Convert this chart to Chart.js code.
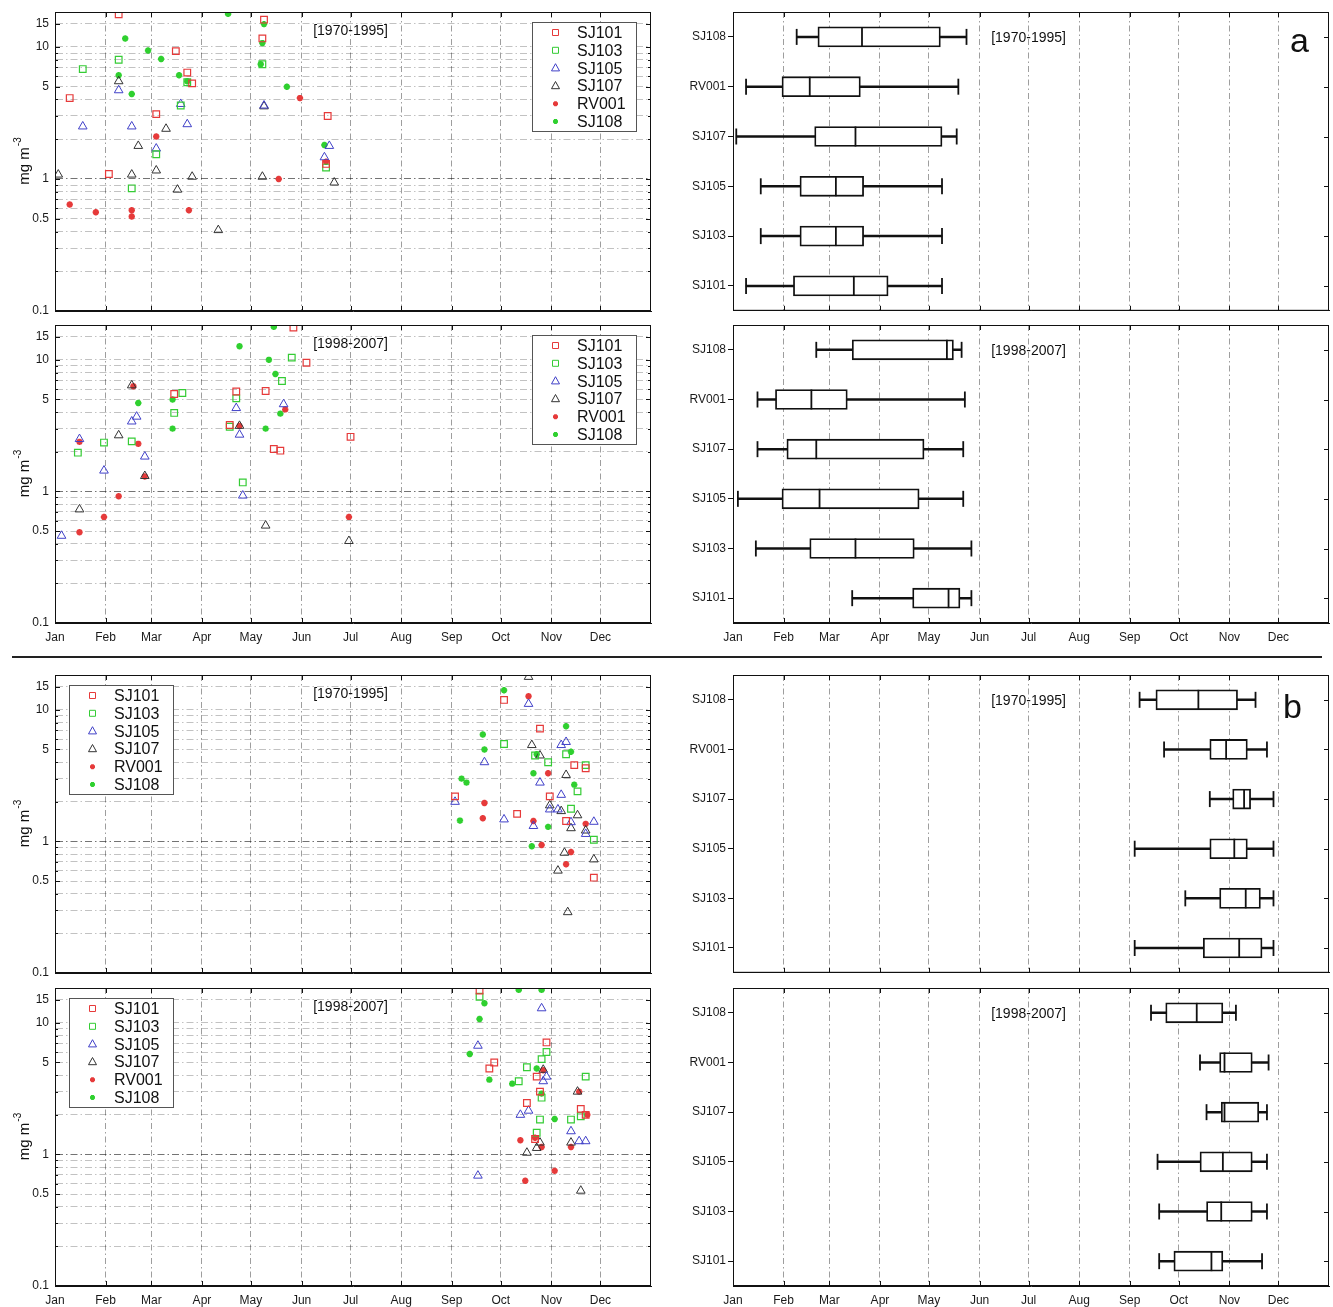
<!DOCTYPE html>
<html><head><meta charset="utf-8">
<script src="https://cdn.jsdelivr.net/npm/chart.js"></script>
<style>
body{margin:0;background:#fff;width:1333px;height:1307px;position:relative;overflow:hidden;font-family:"Liberation Sans",Arial,sans-serif}
canvas{position:absolute}
#sep{position:absolute;left:12px;top:656px;width:1310px;height:2px;background:#222}
.tag{position:absolute;font-size:34px;color:#111;line-height:1}
</style></head><body>
<canvas id="L1" width="660" height="320" style="left:0;top:0"></canvas>
<canvas id="L2" width="660" height="330" style="left:0;top:315px"></canvas>
<canvas id="L3" width="660" height="319" style="left:0;top:663px"></canvas>
<canvas id="L4" width="660" height="329" style="left:0;top:978px"></canvas>
<canvas id="R1" width="653" height="320" style="left:680px;top:0"></canvas>
<canvas id="R2" width="653" height="330" style="left:680px;top:315px"></canvas>
<canvas id="R3" width="653" height="319" style="left:680px;top:663px"></canvas>
<canvas id="R4" width="653" height="329" style="left:680px;top:978px"></canvas>
<div id="sep"></div>
<div class="tag" style="left:1290px;top:23px">a</div>
<div class="tag" style="left:1283px;top:689px">b</div>
<script>
// ---------- data ----------
const monthLabels = ['Jan','Feb','Mar','Apr','May','Jun','Jul','Aug','Sep','Oct','Nov','Dec'];
const monthStarts = [0,31,59,90,120,151,181,212,243,273,304,334];
const yTickValues = [0.1,0.2,0.3,0.4,0.5,0.6,0.7,0.8,0.9,1,2,3,4,5,6,7,8,9,10,15];
const yLabelValues = [0.1,0.5,1,5,10,15];
const scatterStations = ['SJ101','SJ103','SJ105','SJ107','RV001','SJ108'];
const boxStations = ['SJ108','RV001','SJ107','SJ105','SJ103','SJ101'];
const periods = ['[1970-1995]','[1998-2007]'];

// panel a, 1970-1995 : [day of year, mg m-3]
const a70_SJ101 = [[39,17.7],[9,4.1],[33,1.09],[62,3.1],[74,9.3],[81,6.4],[84,5.3],[128,16.1],[127,11.6],[167,3.0],[166,1.3]];
const a70_SJ103 = [[17,6.8],[39,8.0],[47,0.85],[62,1.54],[77,3.6],[81,5.4],[127,7.4],[166,1.22]];
const a70_SJ105 = [[17,2.5],[39,4.7],[47,2.5],[62,1.7],[77,3.7],[81,2.6],[128,3.6],[165,1.46],[168,1.78]];
const a70_SJ107 = [[2,1.08],[39,5.5],[47,1.08],[51,1.78],[62,1.16],[68,2.4],[75,0.83],[84,1.04],[100,0.41],[127,1.04],[128,3.55],[171,0.94]];
const a70_RV001 = [[9,0.64],[25,0.56],[47,0.58],[47,0.52],[62,2.1],[82,0.58],[137,1.0],[150,4.1],[166,1.35]];
const a70_SJ108 = [[39,6.1],[43,11.6],[47,4.4],[57,9.4],[65,8.1],[76,6.1],[81,5.5],[106,17.8],[128,14.9],[127,10.7],[126,7.4],[142,5.0],[165,1.81]];
// panel a, 1998-2007
const a98_SJ101 = [[146,17.6],[154,9.5],[129,5.8],[134,2.1],[138,2.04],[111,5.75],[107,3.2],[73,5.5],[181,2.6]];
const a98_SJ103 = [[14,1.97],[30,2.35],[47,2.4],[73,3.95],[78,5.6],[107,3.1],[111,5.1],[115,1.17],[139,6.9],[145,10.4]];
const a98_SJ105 = [[4,0.46],[15,2.5],[30,1.44],[47,3.4],[50,3.7],[55,1.84],[111,4.3],[113,2.7],[115,0.93],[140,4.6]];
const a98_SJ107 = [[15,0.73],[39,2.67],[129,0.55],[180,0.42],[113,3.15],[47,6.4],[55,1.31]];
const a98_RV001 = [[15,0.49],[30,0.64],[39,0.92],[15,2.38],[48,6.3],[51,2.3],[55,1.3],[113,3.14],[141,4.2],[180,0.64]];
const a98_SJ108 = [[51,4.7],[72,5.0],[72,3.0],[113,12.7],[129,3.0],[131,10],[134,17.8],[135,7.8],[138,3.9]];
// panel b, 1970-1995
const b70_SJ101 = [[275,11.9],[297,7.2],[245,2.2],[283,1.62],[303,2.2],[318,3.8],[325,3.6],[313,1.43],[330,0.53]];
const b70_SJ103 = [[275,5.5],[302,4.0],[313,4.6],[320,2.4],[316,1.77],[325,3.8],[330,1.03],[294,4.5]];
const b70_SJ105 = [[245,2.0],[263,4.0],[275,1.47],[290,11.1],[293,1.31],[297,2.8],[303,1.75],[310,2.26],[310,5.4],[313,5.7],[316,1.4],[325,1.14],[330,1.41],[308,1.75]];
const b70_SJ107 = [[290,17.8],[292,5.4],[297,4.5],[303,1.88],[310,1.7],[313,3.2],[316,1.26],[320,1.58],[325,1.21],[312,0.82],[308,0.6],[330,0.73],[314,0.29]];
const b70_RV001 = [[263,1.96],[262,1.5],[290,12.7],[302,3.3],[293,1.43],[298,0.94],[316,0.83],[313,0.67],[325,1.36]];
const b70_SJ108 = [[275,14.1],[262,6.5],[263,5.0],[249,3.0],[252,2.8],[248,1.44],[313,7.5],[316,4.8],[318,2.7],[293,3.3],[302,1.29],[292,0.92],[295,4.6]];
// panel b, 1998-2007
const b98_SJ101 = [[260,17.6],[301,7.1],[269,5.0],[266,4.5],[295,3.9],[289,2.46],[297,3.0],[322,2.22],[325,2.0],[294,1.31]];
const b98_SJ103 = [[260,15.8],[289,4.6],[298,5.3],[301,6.0],[284,3.6],[298,2.7],[297,1.84],[316,1.84],[322,1.95],[325,3.9],[295,1.46]];
const b98_SJ105 = [[298,12.9],[259,6.7],[301,3.9],[299,3.6],[285,2.0],[290,2.15],[316,1.5],[321,1.26],[325,1.26],[259,0.69]];
const b98_SJ107 = [[289,1.03],[295,1.12],[297,1.23],[322,0.53],[316,1.23],[299,4.4],[320,3.0]];
const b98_RV001 = [[285,1.28],[288,0.63],[306,0.75],[294,1.34],[298,1.14],[299,4.36],[321,3.0],[326,2.0],[316,1.14]];
const b98_SJ108 = [[284,17.8],[298,17.8],[263,14.1],[260,10.7],[254,5.8],[266,3.7],[280,3.45],[295,4.5],[298,2.9],[306,1.86]];

// box plots, rows follow boxStations: [min, q1, median, q3, max] (day of year)
const boxA1970 = [[39,52,79,127,143],[8,30,47,78,138],[2,50,75,128,137],[17,41,63,80,128],[17,41,63,80,128],[8,37,74,95,128]];
const boxA1998 = [[51,73,131,135,140],[15,26,48,70,142],[15,33,51,117,141],[3,30,53,114,141],[14,47,75,111,146],[73,110,132,139,146]];
const boxB1970 = [[249,259,285,309,320],[264,292,302,315,327],[292,306,313,317,331],[246,292,307,315,331],[277,298,314,323,331],[246,288,310,324,331]];
const boxB1998 = [[256,265,284,300,308],[286,298,301,318,328],[290,299,301,322,327],[260,286,300,318,327],[261,290,299,318,327],[261,270,293,300,324]];

// ---------- styles ----------
const FONT = '"Liberation Sans", Arial, sans-serif';
Chart.defaults.font.family = FONT;
Chart.defaults.color = '#1a1a1a';
const stationStyle = {
  SJ101:{color:'#e63a3a', point:'rect', radius:4.7, width:1.2, lr:3},
  SJ103:{color:'#35cc35', point:'rect', radius:4.7, width:1.2, lr:3},
  SJ105:{color:'#4040c8', point:'triangle', radius:5, width:1, lr:4},
  SJ107:{color:'#333333', point:'triangle', radius:5, width:1, lr:4},
  RV001:{color:'#e63a3a', point:'star', radius:3.2, width:2, lr:2.5},
  SJ108:{color:'#2fd02f', point:'star', radius:3.2, width:2, lr:2.5}
};

function markerPath(ctx, style, x, y, r){
  ctx.beginPath();
  if (style==='rect'){ ctx.rect(x-r, y-r, 2*r, 2*r); }
  else if (style==='triangle'){ ctx.moveTo(x, y-r*1.1); ctx.lineTo(x+r, y+r*0.7); ctx.lineTo(x-r, y+r*0.7); ctx.closePath(); }
  else { for (let k=0;k<4;k++){ const g=k*Math.PI/4; ctx.moveTo(x+r*Math.cos(g), y+r*Math.sin(g)); ctx.lineTo(x-r*Math.cos(g), y-r*Math.sin(g)); } }
  ctx.stroke();
}

// ---------- plugins ----------
const framePlugin = {
  id:'frame',
  afterDraw(chart, args, o){
    const {ctx, chartArea:a, scales} = chart;
    ctx.save();
    ctx.strokeStyle='#111'; ctx.lineWidth=1;
    ctx.strokeRect(a.left+0.5, a.top+0.5, a.right-a.left-1, a.bottom-a.top-1);
    const seg=(x1,y1,x2,y2)=>{ctx.beginPath();ctx.moveTo(x1,y1);ctx.lineTo(x2,y2);ctx.stroke();};
    monthStarts.forEach(d=>{ const x=Math.round(scales.x.getPixelForValue(d))+0.5; seg(x,a.top,x,a.top+5); seg(x,a.bottom,x,a.bottom-5); });
    if (o.logTicks){
      yTickValues.forEach(v=>{ const y=Math.round(scales.y.getPixelForValue(v))+0.5; const len=yLabelValues.includes(v)?5:3;
        seg(a.left,y,a.left+len,y); seg(a.right,y,a.right-len,y); });
    }
    if (o.catTicks){
      boxStations.forEach((s,i)=>{ const y=Math.round(scales.y.getPixelForValue(i))+0.5; seg(a.right,y,a.right-5,y); });
    }
    ctx.restore();
  }
};
const periodPlugin = {
  id:'period',
  afterDraw(chart, args, o){
    const ctx=chart.ctx; const x=chart.scales.x.getPixelForValue(o.day); const y=chart.chartArea.top+o.dy;
    ctx.save(); ctx.font='14px '+FONT; ctx.textAlign='center'; ctx.textBaseline='middle'; ctx.fillStyle='#111';
    ctx.fillText(o.text, x, y); ctx.restore();
  }
};
const legendPlugin = {
  id:'boxLegend',
  afterDraw(chart, args, o){
    const a=chart.chartArea, ctx=chart.ctx; const w=104, h=109;
    const left = o.side==='right' ? a.right-15-w : a.left+14;
    const top = a.top+10;
    ctx.save();
    ctx.fillStyle='#fff'; ctx.fillRect(left, top, w, h);
    ctx.strokeStyle='#555'; ctx.lineWidth=1; ctx.strokeRect(left+0.5, top+0.5, w, h);
    ctx.font='16px '+FONT; ctx.textBaseline='middle';
    scatterStations.forEach((st,i)=>{
      const y=top+10.5+i*17.8; const s=stationStyle[st];
      ctx.strokeStyle=s.color; ctx.lineWidth=s.point==='star'?2:1;
      markerPath(ctx, s.point, left+23.5, y, s.lr);
      ctx.fillStyle='#111'; ctx.fillText(st, left+45, y+1);
    });
    ctx.restore();
  }
};
const yTitlePlugin = {
  id:'yTitle',
  afterDraw(chart){
    const a=chart.chartArea, ctx=chart.ctx;
    ctx.save(); ctx.translate(25, (a.top+a.bottom)/2); ctx.rotate(-Math.PI/2);
    ctx.fillStyle='#111'; ctx.textBaseline='middle';
    ctx.font='15px '+FONT; const w1=ctx.measureText('mg m').width;
    ctx.font='10px '+FONT; const w2=ctx.measureText('-3').width;
    const st=-(w1+w2)/2;
    ctx.font='15px '+FONT; ctx.fillText('mg m', st, 0);
    ctx.font='10px '+FONT; ctx.fillText('-3', st+w1+1, -7);
    ctx.restore();
  }
};
const boxMarks = {
  id:'boxMarks',
  afterDatasetsDraw(chart, args, o){
    const ctx=chart.ctx, xs=chart.scales.x, ys=chart.scales.y;
    ctx.save(); ctx.strokeStyle='#111'; ctx.lineWidth=1.8;
    const vl=(x,y1,y2)=>{ctx.beginPath();ctx.moveTo(x,y1);ctx.lineTo(x,y2);ctx.stroke();};
    o.rows.forEach((r,i)=>{
      const y=ys.getPixelForValue(i);
      vl(xs.getPixelForValue(r[2]), y-10, y+10);
      vl(xs.getPixelForValue(r[0]), y-8, y+8);
      vl(xs.getPixelForValue(r[4]), y-8, y+8);
    });
    ctx.restore();
  }
};

// ---------- builders ----------
function monthAxis(showLabels, h){
  return {
    type:'linear', min:0, max:365,
    afterBuildTicks: s => { s.ticks = monthStarts.map(v=>({value:v})); },
    afterFit: s => { s.height = h; s.paddingLeft = 0; s.paddingRight = 0; },
    ticks:{ display:showLabels, autoSkip:false, maxRotation:0, padding:7, font:{size:12},
      callback: v => { const k=monthStarts.indexOf(v); return k>=0 ? monthLabels[k] : ''; } },
    grid:{ color:'rgba(0,0,0,0.38)', lineWidth:1, drawTicks:false },
    border:{ display:true, color:'#111', dash:[6,3,1.5,3] }
  };
}
function makeScatter(id, sets, period, showX, axisH, padTop, legendSide){
  new Chart(document.getElementById(id), {
    type:'scatter',
    data:{ datasets: scatterStations.map((st,i)=>{ const s=stationStyle[st]; return {
      label:st, data: sets[i].map(p=>({x:p[0], y:p[1]})),
      pointStyle:s.point, pointRadius:s.radius, pointHoverRadius:s.radius,
      pointBorderColor:s.color, pointBackgroundColor:'rgba(0,0,0,0)', pointBorderWidth:s.width,
      borderColor:s.color, backgroundColor:'rgba(0,0,0,0)', showLine:false }; }) },
    options:{
      responsive:false, animation:false, devicePixelRatio:1,
      layout:{ padding:{ left:10, right:9, top:padTop, bottom:0 } },
      plugins:{ legend:{display:false}, tooltip:{enabled:false},
        frame:{logTicks:true}, period:{text:period, dy:19, day:181}, boxLegend:{side:legendSide} },
      scales:{
        x: monthAxis(showX, axisH),
        y:{ type:'logarithmic', min:0.1, max:18.4,
          afterBuildTicks: s => { s.ticks = yTickValues.map(v=>({value:v})); },
          afterFit: s => { s.width = 45; s.paddingTop = 0; s.paddingBottom = 0; },
          ticks:{ autoSkip:false, padding:6, font:{size:12}, callback: v => yLabelValues.includes(v) ? String(v) : '' },
          grid:{ drawTicks:false, color: c => (c.tick && c.tick.value===1) ? 'rgba(0,0,0,0.55)' : 'rgba(0,0,0,0.24)' },
          border:{ color:'#111', dash:[7,3,1.5,3] } }
      }
    },
    plugins:[framePlugin, periodPlugin, legendPlugin, yTitlePlugin]
  });
}
function makeBox(id, rows, period, showX, axisH, padTop){
  new Chart(document.getElementById(id), {
    type:'bar',
    data:{ labels: boxStations, datasets:[
      { label:'box', data: rows.map(r=>[r[1], r[3]]), backgroundColor:'#fff', borderColor:'#111',
        borderWidth:1.8, borderSkipped:false, barThickness:20, grouped:false, order:1 },
      { label:'whisker', data: rows.map(r=>[r[0], r[4]]), backgroundColor:'#111', borderWidth:0,
        barThickness:1.8, grouped:false, order:2 }
    ]},
    options:{
      indexAxis:'y', responsive:false, animation:false, devicePixelRatio:1,
      layout:{ padding:{ left:0, right:4, top:padTop, bottom:0 } },
      plugins:{ legend:{display:false}, tooltip:{enabled:false},
        frame:{catTicks:true}, period:{text:period, dy:26, day:181}, boxMarks:{rows} },
      scales:{
        x: monthAxis(showX, axisH),
        y:{ type:'category', afterFit: s => { s.width = 53; },
          ticks:{ font:{size:12}, padding:2 },
          grid:{ drawOnChartArea:false, drawTicks:true, tickLength:5, color:'#111', offset:false },
          border:{ color:'#111' } }
      }
    },
    plugins:[framePlugin, periodPlugin, boxMarks]
  });
}

makeScatter('L1', [a70_SJ101,a70_SJ103,a70_SJ105,a70_SJ107,a70_RV001,a70_SJ108], periods[0], false, 9, 12, 'right');
makeScatter('L2', [a98_SJ101,a98_SJ103,a98_SJ105,a98_SJ107,a98_RV001,a98_SJ108], periods[1], true, 22, 10, 'right');
makeScatter('L3', [b70_SJ101,b70_SJ103,b70_SJ105,b70_SJ107,b70_RV001,b70_SJ108], periods[0], false, 9, 12, 'left');
makeScatter('L4', [b98_SJ101,b98_SJ103,b98_SJ105,b98_SJ107,b98_RV001,b98_SJ108], periods[1], true, 21, 10, 'left');
makeBox('R1', boxA1970, periods[0], false, 9, 12);
makeBox('R2', boxA1998, periods[1], true, 22, 10);
makeBox('R3', boxB1970, periods[0], false, 9, 12);
makeBox('R4', boxB1998, periods[1], true, 21, 10);
</script>
</body></html>
